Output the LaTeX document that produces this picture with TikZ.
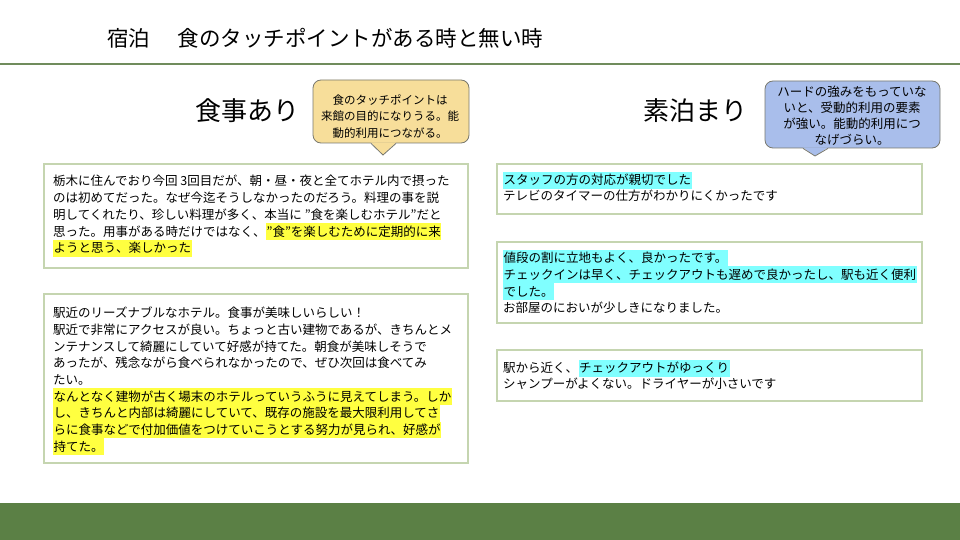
\documentclass[tikz,border=0pt]{standalone}
\usepackage{fontspec}
\setmainfont{Noto Sans CJK JP}
\definecolor{barGreen}{RGB}{91,128,69}
\definecolor{ruleGreen}{RGB}{112,140,92}
\definecolor{boxGreen}{RGB}{197,213,176}
\definecolor{hlYellow}{RGB}{255,255,64}
\definecolor{hlCyan}{RGB}{128,255,255}
\definecolor{noteYellow}{RGB}{247,222,154}
\definecolor{noteBlue}{RGB}{169,190,235}
\definecolor{noteEdge}{RGB}{120,120,110}
\newcommand\bodyfont{\fontsize{12.5}{16.7}\selectfont}

\begin{document}
\begin{tikzpicture}[x=1pt,y=-1pt,
  commentbox/.style={draw=boxGreen, line width=2pt, inner sep=0pt},
  txt/.style={anchor=base west, inner sep=0pt, font=\bodyfont},
  hly/.style={fill=hlYellow, inner xsep=0.5pt, inner ysep=0pt, text height=13pt, text depth=3.8pt},
  hlc/.style={fill=hlCyan, inner xsep=0.5pt, inner ysep=0pt, text height=13pt, text depth=3.8pt},
  notebox/.style={draw=noteEdge, line width=0.8pt, rounded corners=8pt, inner sep=0pt},
  notetext/.style={align=center, inner sep=0pt},
  heading/.style={font=\fontsize{26}{30}\selectfont}]
\useasboundingbox (0,0) rectangle (960,540);

% title and frame
\node (title) at (325,38) {\fontsize{21.5}{24}\selectfont 宿泊\hspace{27.5pt}食のタッチポイントがある時と無い時};
\draw[ruleGreen, line width=1.5pt] (0,64) -- (960,64);
\fill[barGreen] (0,503) rectangle (960,540);

% headings
\node[heading] (meal) at (247,111) {食事あり};
\node[heading] (stay) at (695,111) {素泊まり};

% callouts
\node[notebox, fill=noteYellow, minimum width=156pt, minimum height=63pt] (noteMeal) at (391,111.5) {};
\coordinate (tipMeal) at (383,155);
\fill[noteYellow] ([xshift=-20pt,yshift=1pt]noteMeal.south) -- (tipMeal) -- ([xshift=5pt,yshift=1pt]noteMeal.south) -- cycle;
\draw[noteEdge, line width=0.8pt] ([xshift=-20pt]noteMeal.south) -- (tipMeal) -- ([xshift=5pt]noteMeal.south);
\node[notetext, font=\fontsize{11.5}{16.5}\selectfont] (noteMealText) at (390,116.5)
  {食のタッチポイントは\\来館の目的になりうる。能\\動的利用につながる。};

\node[notebox, fill=noteBlue, minimum width=175pt, minimum height=67pt] (noteStay) at (852.5,114.5) {};
\coordinate (tipStay) at (815,156);
\fill[noteBlue] ([xshift=-49.5pt,yshift=1pt]noteStay.south) -- (tipStay) -- ([xshift=-24.5pt,yshift=1pt]noteStay.south) -- cycle;
\draw[noteEdge, line width=0.8pt] ([xshift=-49.5pt]noteStay.south) -- (tipStay) -- ([xshift=-24.5pt]noteStay.south);
\node[notetext, font=\fontsize{12.5}{16}\selectfont] (noteStayText) at (852,116)
  {ハードの強みをもっていな\\いと、受動的利用の要素\\が強い。能動的利用につ\\なげづらい。};

% left column: with meals
\node[commentbox, minimum width=424pt, minimum height=104pt] (boxMealA) at (256,216) {};
\node[txt] (mealA1) at (53,185.7) {栃木に住んでおり今回 3回目だが、朝・昼・夜と全てホテル内で摂った};
\node[txt] (mealA2) at (53,202.5) {のは初めてだった。なぜ今迄そうしなかったのだろう。料理の事を説};
\node[txt] (mealA3) at (53,219.3) {明してくれたり、珍しい料理が多く、本当に "食を楽しむホテル"だと};
\node[txt] (mealA4) at (53,236.1) {思った。用事がある時だけではなく、};
\node[txt, hly] (mealA4h) at (mealA4.base east) {"食"を楽しむために定期的に来};
\node[txt, hly] (mealA5) at (53,252.9) {ようと思う、楽しかった};

\node[commentbox, minimum width=424pt, minimum height=169pt] (boxMealB) at (256,378.5) {};
\node[txt] (mealB1) at (53,317.7) {駅近のリーズナブルなホテル。食事が美味しいらしい！};
\node[txt] (mealB2) at (53,334.4) {駅近で非常にアクセスが良い。ちょっと古い建物であるが、きちんとメ};
\node[txt] (mealB3) at (53,351.1) {ンテナンスして綺麗にしていて好感が持てた。朝食が美味しそうで};
\node[txt] (mealB4) at (53,367.8) {あったが、残念ながら食べられなかったので、ぜひ次回は食べてみ};
\node[txt] (mealB5) at (53,384.5) {たい。};
\node[txt, hly] (mealB6) at (53,401.2) {なんとなく建物が古く場末のホテルっていうふうに見えてしまう。しか};
\node[txt, hly] (mealB7) at (53,417.9) {し、きちんと内部は綺麗にしていて、既存の施設を最大限利用してさ};
\node[txt, hly] (mealB8) at (53,434.6) {らに食事などで付加価値をつけていこうとする努力が見られ、好感が};
\node[txt, hly] (mealB9) at (53,451.3) {持てた。};

% right column: room only
\node[commentbox, minimum width=425pt, minimum height=50pt] (boxStayA) at (709.5,189) {};
\node[txt, hlc] (stayA1) at (503,184.7) {スタッフの方の対応が親切でした\hspace{6pt}};
\node[txt] (stayA2) at (503,200.7) {テレビのタイマーの仕方がわかりにくかったです};

\node[commentbox, minimum width=425pt, minimum height=81pt] (boxStayB) at (709.5,282.5) {};
\node[txt, hlc] (stayB1) at (503,262.7) {値段の割に立地もよく、良かったです。\hspace{2pt}};
\node[txt, hlc] (stayB2) at (503,279.4) {チェックインは早く、チェックアウトも遅めで良かったし、駅も近く便利\hspace{3pt}};
\node[txt, hlc] (stayB3) at (503,296.1) {でした。};
\node[txt] (stayB4) at (503,312.8) {お部屋のにおいが少しきになりました。};

\node[commentbox, minimum width=425pt, minimum height=51pt] (boxStayC) at (709.5,375.5) {};
\node[txt] (stayC1) at (503,372.7) {駅から近く、};
\node[txt, hlc] (stayC1h) at (stayC1.base east) {チェックアウトがゆっくり};
\node[txt] (stayC2) at (503,388.7) {シャンプーがよくない。ドライヤーが小さいです};
\end{tikzpicture}
\end{document}
